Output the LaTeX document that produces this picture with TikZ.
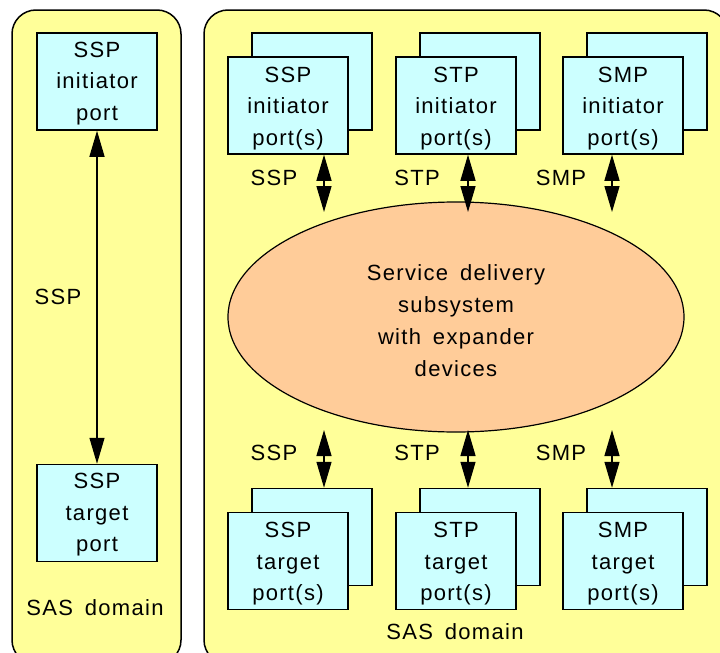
\documentclass[tikz,border=0pt]{standalone}
\usepackage{fontspec}
\setmainfont{Liberation Sans}[LetterSpace=6,WordSpace=1.6]
\usetikzlibrary{arrows.meta,shapes.geometric}
\definecolor{domainfill}{RGB}{255,255,153}
\definecolor{portfill}{RGB}{204,255,255}
\definecolor{sdsfill}{RGB}{255,204,153}
\begin{document}
\begin{tikzpicture}[x=1pt,y=-1pt,
  every node/.style={font=\fontsize{22}{31.5}\selectfont},
  sasdomain/.style={draw=black,line width=1.5pt,fill=domainfill,rounded corners=24pt},
  port/.style={draw=black,line width=1.5pt,fill=portfill,minimum width=120pt,
    minimum height=97pt,inner sep=0pt},
  porttext/.style={inner sep=0pt,align=center},
  sds/.style={ellipse,draw=black,line width=1.2pt,fill=sdsfill,minimum width=456pt,
    minimum height=230pt,inner sep=0pt},
  sdstext/.style={inner sep=0pt,align=center,font=\fontsize{22}{32}\selectfont},
  link/.style={line width=1.3pt,
    {Triangle[width=15pt,length=26pt]}-{Triangle[width=15pt,length=26pt]}},
  proto/.style={inner sep=0pt}]
\useasboundingbox (0,0) rectangle (720,653);
\clip (0,0) rectangle (720,653);

% SAS domain panels
\draw[sasdomain] (12,10) rectangle (181,664);
\draw[sasdomain] (204,10) rectangle (728,664);

% left domain: single SSP initiator/target pair
\node[port] (li) at (97,81.5) {};
\node[porttext] (litext) at ([yshift=-2pt]li.center) {SSP\\initiator\\port};
\node[port] (lt) at (97,513) {};
\node[porttext] (lttext) at ([yshift=-2pt]lt.center) {SSP\\target\\port};
\draw[link] (li.south) -- (lt.north);
\node[proto] (lssp) at (58,297) {SSP};
\node[proto] (ldom) at (95,608) {SAS domain};

% right domain: initiator ports (stacked)
\node[port] (sspib) at (312,81.5) {};
\node[port] (sspi) at (288,105.5) {};
\node[porttext] (sspitext) at ([yshift=-3pt]sspi.center) {SSP\\initiator\\port(s)};
\node[port] (stpib) at (480,81.5) {};
\node[port] (stpi) at (456,105.5) {};
\node[porttext] (stpitext) at ([yshift=-3pt]stpi.center) {STP\\initiator\\port(s)};
\node[port] (smpib) at (647,81.5) {};
\node[port] (smpi) at (623,105.5) {};
\node[porttext] (smpitext) at ([yshift=-3pt]smpi.center) {SMP\\initiator\\port(s)};

% service delivery subsystem
\node[sds] (sds) at (456,317) {};
\node[sdstext] (sdstext) at ([yshift=-4pt]sds.center) {Service delivery\\subsystem\\with expander\\devices};

% right domain: target ports (stacked)
\node[port] (ssptb) at (312,537) {};
\node[port] (sspt) at (288,561) {};
\node[porttext] (ssptext) at ([yshift=-3pt]sspt.center) {SSP\\target\\port(s)};
\node[port] (stptb) at (480,537) {};
\node[port] (stpt) at (456,561) {};
\node[porttext] (stptext) at ([yshift=-3pt]stpt.center) {STP\\target\\port(s)};
\node[port] (smptb) at (647,537) {};
\node[port] (smpt) at (623,561) {};
\node[porttext] (smptext) at ([yshift=-3pt]smpt.center) {SMP\\target\\port(s)};

% link ends towards the service delivery subsystem
\coordinate (sspiend) at (324,212);
\coordinate (stpiend) at (468,212);
\coordinate (smpiend) at (612,212);
\coordinate (ssptend) at (324,430);
\coordinate (stptend) at (468,430);
\coordinate (smptend) at (612,430);

\draw[link] (sspi.south -| sspiend) -- (sspiend);
\draw[link] (stpi.south -| stpiend) -- (stpiend);
\draw[link] (smpi.south -| smpiend) -- (smpiend);
\draw[link] (ssptend) -- (ssptb.north -| ssptend);
\draw[link] (stptend) -- (stptb.north -| stptend);
\draw[link] (smptend) -- (smptb.north -| smptend);

% protocol labels
\node[proto] (pi1) at (274,178) {SSP};
\node[proto] (pi2) at (417,178) {STP};
\node[proto] (pi3) at (561,178) {SMP};
\node[proto] (pt1) at (274,453) {SSP};
\node[proto] (pt2) at (417,453) {STP};
\node[proto] (pt3) at (561,453) {SMP};

\node[proto] (rdom) at (455,632) {SAS domain};
\end{tikzpicture}
\end{document}
